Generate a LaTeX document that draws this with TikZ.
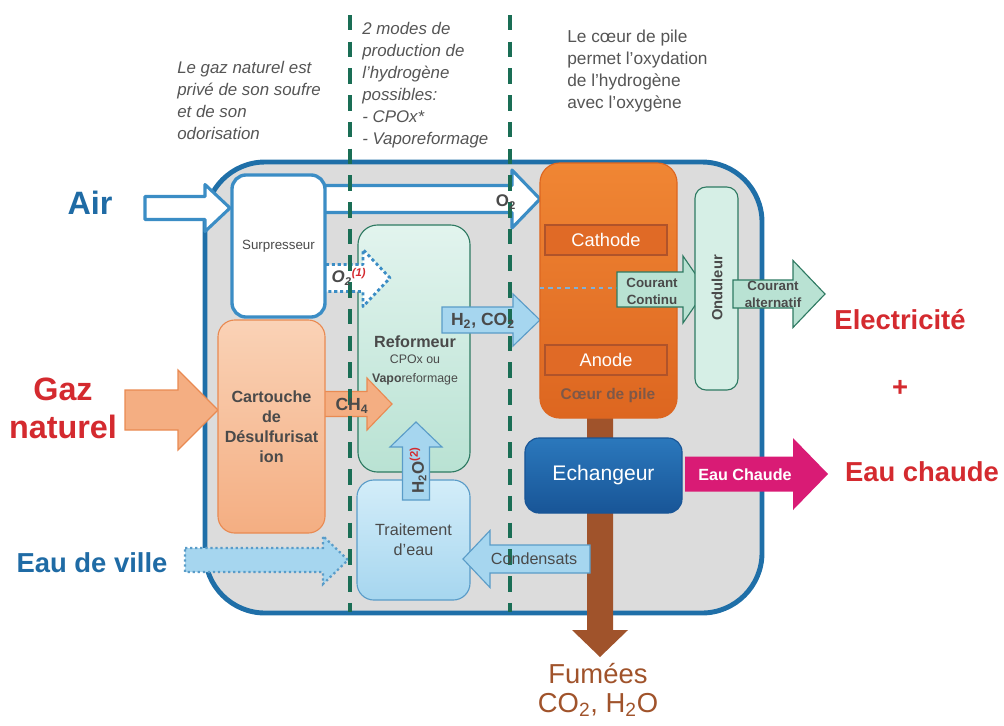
\documentclass[tikz,border=0pt]{standalone}
\usepackage{fontspec}
\setmainfont{Liberation Sans}
\usetikzlibrary{positioning}

\definecolor{frameblue}{HTML}{1F6FA8}
\definecolor{framefill}{HTML}{DCDCDC}
\definecolor{boxblue}{HTML}{3B8DC5}
\definecolor{dashgreen}{HTML}{1A6E55}
\definecolor{txtgray}{HTML}{4A4A4A}
\definecolor{notegray}{HTML}{555555}
\definecolor{titleblue}{HTML}{1F6BA5}
\definecolor{titlered}{HTML}{D42A2F}
\definecolor{cartlight}{HTML}{FAD2B6}
\definecolor{cartdark}{HTML}{F4AE82}
\definecolor{cartedge}{HTML}{E98A52}
\definecolor{corelight}{HTML}{F08634}
\definecolor{coredark}{HTML}{DD6620}
\definecolor{cathfill}{HTML}{E06A26}
\definecolor{cathedge}{HTML}{B0532A}
\definecolor{coretext}{HTML}{7E5848}
\definecolor{mintlight}{HTML}{E2F4EE}
\definecolor{mintdark}{HTML}{B9E2D3}
\definecolor{mintedge}{HTML}{2E7A62}
\definecolor{waterlight}{HTML}{D3EDF9}
\definecolor{waterdark}{HTML}{A6D6EF}
\definecolor{wateredge}{HTML}{5A9CC8}
\definecolor{echlight}{HTML}{2B78BC}
\definecolor{echdark}{HTML}{185597}
\definecolor{hotpink}{HTML}{D91B75}
\definecolor{smokebrown}{HTML}{A0532B}
\definecolor{dcline}{HTML}{7FB0D8}

\newcommand{\fs}[2]{\fontsize{#1}{#2}\selectfont}
% horizontal block arrow: [style]{x start}{x tip}{y}{half shaft}{half head}{head length}
\newcommand{\harrow}[7][]{\draw[#1] (#2,{#4-#5}) -- ({#3-(#7)},{#4-#5}) -- ({#3-(#7)},{#4-#6}) -- (#3,#4) -- ({#3-(#7)},{#4+#6}) -- ({#3-(#7)},{#4+#5}) -- (#2,{#4+#5}) -- cycle;}
% vertical block arrow: [style]{y start}{y tip}{x}{half shaft}{half head}{head length}
\newcommand{\varrow}[7][]{\draw[#1] ({#4-#5},#2) -- ({#4-#5},{#3-(#7)}) -- ({#4-#6},{#3-(#7)}) -- (#4,#3) -- ({#4+#6},{#3-(#7)}) -- ({#4+#5},{#3-(#7)}) -- ({#4+#5},#2) -- cycle;}

\tikzset{
  box/.style={draw, align=center, text=txtgray, inner sep=1pt},
  bigred/.style={text=titlered, font=\bfseries\fs{19.5}{23}},
  bigblue/.style={text=titleblue, font=\bfseries\fs{19.5}{23}},
  note/.style={text=notegray, align=left, anchor=north west, inner sep=0pt},
  airpipe/.style={draw=boxblue, line width=2.2pt, fill=white, line join=round},
  sep/.style={draw=dashgreen, line width=2.8pt, dash pattern=on 11pt off 8pt},
  tag/.style={inner sep=0pt, text=txtgray, align=center},
}

\begin{document}
\begin{tikzpicture}[x=0.025cm, y=-0.025cm]
	\useasboundingbox (0,0) rectangle (1004,725);
	% the system
	\draw[draw=frameblue, line width=3.5pt, fill=framefill, rounded corners=1.5cm] (205,162) rectangle (762,613);
	\varrow[fill=smokebrown, draw=none]{418}{657}{600}{13}{28}{27}
	\node[box, draw=mintedge, line width=0.8pt, top color=mintlight, bottom color=mintdark, rounded corners=14pt, minimum width=2.8cm, minimum height=6.175cm] (refo) at (414,348.5) {};
	% air in
	\harrow[airpipe]{145}{230}{208}{11.5}{23.5}{25}
	\harrow[airpipe]{320}{540}{199}{13.5}{29}{28}
	\harrow[airpipe, dotted, line width=2pt]{320}{390}{278}{13.5}{28.5}{27}
	\node[box, draw=boxblue, line width=2.4pt, fill=white, rounded corners=10pt, minimum width=2.325cm, minimum height=3.55cm, font=\fs{9.5}{11}] (surp) at (278.5,246) {Surpresseur};
	% gas in
	\harrow[fill=cartdark, draw=cartedge, line width=0.8pt]{125}{218}{410}{20}{40}{40}
	\harrow[fill=cartdark, draw=cartedge, line width=0.8pt]{320}{392}{404}{12.5}{26}{25}
	\node[box, draw=cartedge, line width=0.8pt, top color=cartlight, bottom color=cartdark, rounded corners=12pt, minimum width=2.675cm, minimum height=5.325cm, font=\bfseries\fs{11.5}{14.2}] (cart) at (271.5,426.5) {Cartouche\\de\\Désulfurisat\\ion};
	% water in
	\harrow[fill=waterdark, draw=wateredge, dotted, line width=1.6pt]{185}{348}{560}{12}{24}{25}
	\node[box, draw=wateredge, line width=0.8pt, top color=waterlight, bottom color=waterdark, rounded corners=12pt, minimum width=2.825cm, minimum height=3cm, font=\fs{11.5}{14.2}] (trait) at (413.5,540) {Traitement\\d'eau};
	\varrow[fill=waterdark, draw=wateredge, line width=0.8pt]{500}{422}{416}{13.5}{26}{-25}
	\harrow[fill=waterdark, draw=wateredge, line width=0.8pt]{590}{463}{559}{14}{28.5}{-27}
	\harrow[fill=waterdark, draw=wateredge, line width=0.8pt]{442}{540}{320}{13}{26}{27}
	% fuel cell
	\node[box, draw=coredark, line width=0.8pt, top color=corelight, bottom color=coredark, rounded corners=14pt, minimum width=3.425cm, minimum height=6.375cm] (coeur) at (608.5,290.5) {};
	\node[box, draw=cathedge, line width=2pt, fill=cathfill, text=white, minimum width=3.05cm, minimum height=0.75cm, font=\fs{13}{15}] (cath) at (606,240) {Cathode};
	\node[box, draw=cathedge, line width=2pt, fill=cathfill, text=white, minimum width=3.05cm, minimum height=0.75cm, font=\fs{13}{15}] (anode) at (606,360) {Anode};
	\node[tag, text=coretext, font=\bfseries\fs{11}{13}] (coeurlbl) at (608,395) {Cœur de pile};
	\draw[dcline, dashed, line width=1pt] (540,288) -- (622,288);
	\harrow[fill=mintdark, draw=mintedge, line width=0.8pt]{617}{706}{289.5}{17.5}{33.5}{23}
	\node[box, draw=mintedge, line width=0.8pt, fill=mintlight!70!mintdark, rounded corners=8pt, minimum width=1.075cm, minimum height=5.075cm] (ond) at (716.5,288.5) {};
	\harrow[fill=mintdark, draw=mintedge, line width=0.8pt]{733}{825}{294}{14}{33.5}{32}
	\node[box, draw=echdark, line width=0.8pt, top color=echlight, bottom color=echdark, rounded corners=10pt, minimum width=3.925cm, minimum height=1.875cm, text=white, font=\fs{15}{17}] (ech) at (603.5,475.5) {Echangeur};
	\harrow[fill=hotpink, draw=none]{685}{828}{474}{17.5}{36}{35}
	% production modes
	\draw[sep] (350,15) -- (350,612);
	\draw[sep] (510,15) -- (510,612);
	% labels on the flows
	\node[tag, font=\bfseries\fs{12}{14}] (o2) at (506,202) {O\textsubscript{2}};
	\node[tag, font=\bfseries\itshape\fs{12}{14}] (o2a) at (349,277) {O\textsubscript{2}\textsuperscript{\color{titlered}(1)}};
	\node[tag, font=\bfseries\fs{12.5}{14}] (h2co2) at (483,321) {H\textsubscript{2}, CO\textsubscript{2}};
	\node[tag, font=\bfseries\fs{12.5}{14}] (ch4) at (352,406) {CH\textsubscript{4}};
	\node[tag, rotate=90, font=\bfseries\fs{12}{14}] (h2o) at (418,470) {H\textsubscript{2}O\textsuperscript{\color{titlered}(2)}};
	\node[tag, font=\fs{11.5}{14}] (cond) at (534,559) {Condensats};
	\node[tag, font=\bfseries\fs{11.5}{14}, align=center] (reftxt) at (415,360) {Reformeur\\[-2pt]{\mdseries\fs{8.8}{10.5}CPOx ou}\\[-1pt]{\fs{8.8}{10.5}Vapo\mdseries reformage}};
	\node[tag, font=\bfseries\fs{9.5}{12}] (cc) at (652,291) {Courant\\Continu};
	\node[tag, rotate=90, font=\bfseries\fs{10.5}{12}] (ondlbl) at (717,288) {Onduleur};
	\node[tag, font=\bfseries\fs{9.5}{12}] (ca) at (773,294) {Courant\\alternatif};
	\node[tag, text=white, font=\bfseries\fs{11.5}{14}] (ecl) at (745,475) {Eau Chaude};
	% inputs and outputs
	\node[bigblue, font=\bfseries\fs{23}{27}] (air) at (90,203) {Air};
	\node[bigred, font=\bfseries\fs{23}{27}, align=center] (gaz) at (63,408) {Gaz\\naturel};
	\node[bigblue] (ville) at (92,563) {Eau de ville};
	\node[bigred] (elec) at (900,320) {Electricité};
	\node[bigred] (plus) at (900,388) {+};
	\node[bigred] (chaude) at (922,472) {Eau chaude};
	\node[text=smokebrown, font=\fs{19.5}{23}, inner sep=0pt] (fum) at (598,674) {Fumées};
	\node[text=smokebrown, font=\fs{19.5}{23}, inner sep=0pt, below=6pt of fum] (fumgaz) {CO\textsubscript{2}, H\textsubscript{2}O};
	% notes
	\node[note, font=\itshape\fs{12}{15.6}] (n1) at (177,61) {Le gaz naturel est\\privé de son soufre\\et de son\\odorisation};
	\node[note, font=\itshape\fs{12}{15.6}] (n2) at (362,22) {2 modes de\\production de\\l'hydrogène\\possibles:\\- CPOx*\\- Vaporeformage};
	\node[note, font=\fs{12.3}{15.6}] (n3) at (567,30) {Le cœur de pile\\permet l'oxydation\\de l'hydrogène\\avec l'oxygène};
\end{tikzpicture}
\end{document}
